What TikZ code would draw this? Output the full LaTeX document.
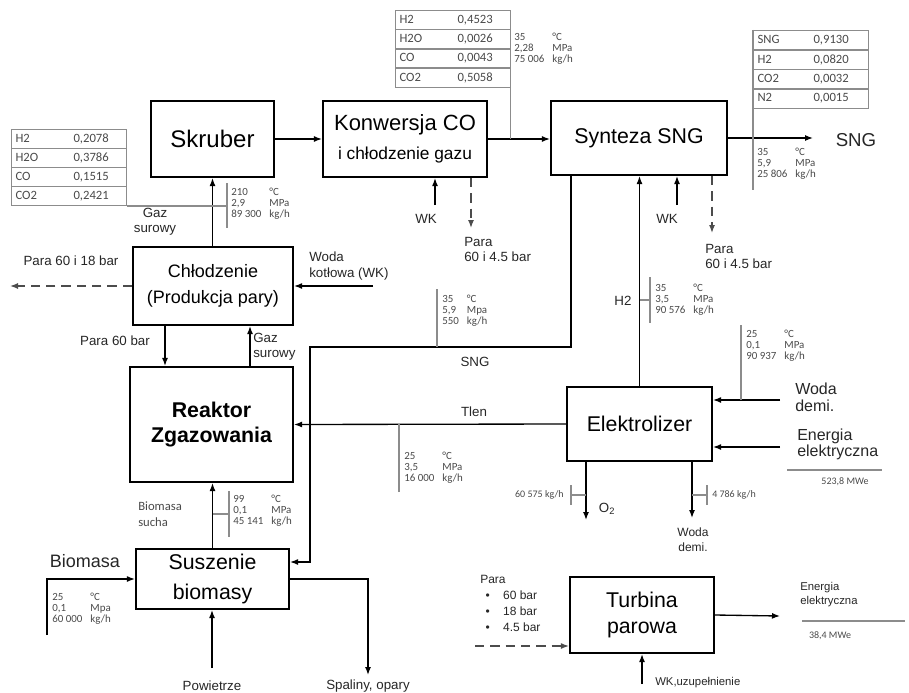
\documentclass[tikz,border=0pt]{standalone}
\usepackage{fontspec}
\setmainfont{Liberation Sans}
\newfontfamily\carl{Carlito}
\usetikzlibrary{arrows.meta}
\definecolor{lgray}{HTML}{8C8C8C}
\definecolor{tgray}{HTML}{4A4A4A}
% dane strumienia: temperatura, cisnienie, przeplyw
\newcommand{\pdata}[4][MPa]{{\carl\fontsize{8.2}{8.4}\selectfont\color{tgray}%
  \begin{tabular}{@{}l@{\hspace{6pt}}l@{}}#2&°C\\#3&#1\\#4&kg/h\end{tabular}}}
\begin{document}
\begin{tikzpicture}[x=0.75pt, y=-0.75pt,
    proc/.style 2 args={draw, line width=1.6pt, minimum width=#1*0.75pt, minimum height=#2*0.75pt,
      inner sep=0pt, align=center, font=\fontsize{16}{20}\selectfont},
    flw/.style={line width=1pt, -{Latex[length=6pt, width=4.5pt]}},
    stm/.style={flw, draw=black!70, dash pattern=on 7pt off 4.5pt},
    dline/.style={draw=lgray, line width=1.1pt},
    crow/.style={draw=lgray, line width=0.8pt, anchor=north west, minimum height=14.25pt,
      text width=80pt, inner xsep=3pt, align=left, text=tgray, font=\carl\fontsize{9.5}{10}\selectfont},
    dat/.style={anchor=north west, inner sep=0pt},
    lbl/.style={inner sep=0pt, align=left, text=black!85, font=\fontsize{10}{11.5}\selectfont},
    sml/.style={inner sep=0pt, align=left, text=tgray, font=\carl\fontsize{7.5}{9}\selectfont}]
\useasboundingbox (0,0) rectangle (909,692);

% bloki procesowe
\node[proc={123}{76}, font=\fontsize{18}{21}\selectfont] (skr) at (212.5,139) {Skruber};
\node[proc={164}{76}, font=\fontsize{16.5}{22}\selectfont] (kon) at (405,139)
  {Konwersja CO\\{\fontsize{13}{22}\selectfont i chłodzenie gazu}};
\node[proc={176}{74}] (syn) at (639,138) {Synteza SNG};
\node[proc={160}{78}, font=\fontsize{13.5}{19.5}\selectfont] (chl) at (213,286) {Chłodzenie\\(Produkcja pary)};
\node[proc={163}{115}, font=\bfseries\fontsize{16}{19}\selectfont] (rea) at (211.5,424.5) {Reaktor\\Zgazowania};
\node[proc={153}{60}, font=\fontsize{16}{22.5}\selectfont] (sus) at (212.5,579) {Suszenie\\biomasy};
\node[proc={145}{74}] (ele) at (639.5,424) {Elektrolizer};
\node[proc={144}{76}] (tur) at (642,615) {Turbina\\parowa};

% sklady gazu
\foreach \n/\v [count=\i] in {H2/{0,2078},H2O/{0,3786},CO/{0,1515},CO2/{0,2421}}
  \node[crow] (ga\i) at (11,{129+19*(\i-1)}) {\makebox[43.5pt][l]{\n}\v};
\foreach \n/\v [count=\i] in {H2/{0,4523},H2O/{0,0026},CO/{0,0043},CO2/{0,5058}}
  \node[crow] (gb\i) at (395,{10+19.25*(\i-1)}) {\makebox[43.5pt][l]{\n}\v};
\foreach \n/\v [count=\i] in {SNG/{0,9130},H2/{0,0820},CO2/{0,0032},N2/{0,0015}}
  \node[crow] (gc\i) at (753,{30+19.5*(\i-1)}) {\makebox[42pt][l]{\n}\v};

% wolne konce i punkty pomocnicze
\coordinate (wkin) at (373,286);
\coordinate (p18) at (10,286);
\coordinate (p60) at (165,325);
\coordinate (gs) at (250,367);
\coordinate (bio) at (47,635);
\coordinate (air) at (212,668);
\coordinate (rc) at (571,347);
\coordinate (rc2) at (310,562);
\coordinate (sp) at (368,675);
\coordinate (wk1) at (435,205);
\coordinate (pk) at (471,228);
\coordinate (wk2) at (677,205);
\coordinate (ps) at (712,233);
\coordinate (so) at (813,138);
\coordinate (wd) at (780,400);
\coordinate (ee) at (780,447);
\coordinate (o2) at (586,520);
\coordinate (wo) at (692,518);
\coordinate (pt) at (475,646);
\coordinate (eo) at (780,616);
\coordinate (wu) at (642,684);

% strumienie
\draw[flw] (skr.east) -- (kon.west);
\draw[flw] (kon.east) -- (kon.east -| syn.west);
\draw[flw] (syn.east) -- (so);
\draw[flw] (skr.south |- chl.north) -- (skr.south);
\draw[flw] (wkin) -- (chl.east);
\draw[stm] (chl.west) -- (p18);
\draw[flw] (p60) -- (p60 |- rea.north);
\draw[flw] (gs) -- (gs |- chl.south);
\draw[flw] (sus.north) -- (sus.north |- rea.south);
\draw[flw] (bio) |- (sus.west);
\draw[flw] (air) -- (air |- sus.south);
\draw[flw] (rc |- syn.south) -- (rc) -| (rc2) -- (rc2 -| sus.east);
\draw[flw] (sus.east) -| (sp);
\draw[flw] (wk1) -- (wk1 |- kon.south);
\draw[stm] (pk |- kon.south) -- (pk);
\draw[flw] (wk2) -- (wk2 |- syn.south);
\draw[stm] (ps |- syn.south) -- (ps);
\draw[flw] (ele.north) -- (ele.north |- syn.south);
\draw[flw] (ele.west) -- (rea.east);
\draw[flw] (wd) -- (wd -| ele.east);
\draw[flw] (ee) -- (ee -| ele.east);
\draw[flw] (o2 |- ele.south) -- (o2);
\draw[flw] (wo |- ele.south) -- (wo);
\draw[stm] (pt) -- (pt -| tur.west);
\draw[flw] (tur.east) -- (eo);
\draw[flw] (wu) -- (tur.south);

% parametry strumieni
\draw[dline] (227,183) coordinate (b1) -- ++(0,45);
\draw[dline] (ga4.south east) -- (ga4.south east -| b1);
\node[dat] at (231,187) {\pdata{210}{2,9}{89 300}};
\draw[dline] (gb4.south east) -- (gb4.south east |- kon.east);
\node[dat] at (514,32) {\pdata{35}{2,28}{75 006}};
\draw[dline] (gc1.north west) -- (753,190) coordinate (b3);
\node[dat] at (757,147) {\pdata{35}{5,9}{25 806}};
\draw[dline] (437,289) coordinate (b4) -- (b4 |- rc);
\node[dat] at (442,294) {\pdata[Mpa]{35}{5,9}{550}};
\draw[dline] (650,277) coordinate (b5) -- ++(0,46);
\draw[dline] (b5) ++(0,23) -- (ele.north |- 0,300);
\node[dat] at (655,283) {\pdata{35}{3,5}{90 576}};
\draw[dline] (741,325) coordinate (b6) -- (b6 |- wd);
\node[dat] at (746,329) {\pdata{25}{0,1}{90 937}};
\draw[dline] (399,492) coordinate (b7) -- (b7 |- ele.west);
\node[dat] at (404,451) {\pdata{25}{3,5}{16 000}};
\draw[dline] (229,491) coordinate (b8) -- ++(0,46);
\draw[dline] (b8) ++(0,23) -- (sus.north |- 0,514);
\node[dat] at (233,494) {\pdata{99}{0,1}{45 141}};
\node[dat] at (52,592) {\pdata[Mpa]{25}{0,1}{60 000}};
\draw[dline] (571,485) coordinate (b10) -- ++(0,20);
\draw[dline] (b10) ++(0,10) -- (o2 |- 0,495);
\draw[dline] (707,485) coordinate (b11) -- ++(0,20);
\draw[dline] (b11) ++(0,10) -- (wo |- 0,495);
\node[sml, anchor=east] at (564,495) {60 575 kg/h};
\node[sml, anchor=west] at (712,495) {4 786 kg/h};

% opisy
\node[lbl, font=\fontsize{14}{16}\selectfont] at (856,140) {SNG};
\node[lbl, align=center] at (155,222) {Gaz\\surowy};
\node[lbl] at (71,261) {Para 60 i 18 bar};
\node[lbl, anchor=west] at (309,266) {Woda\\kotłowa (WK)};
\node[lbl] at (115,341) {Para 60 bar};
\node[lbl, anchor=west] at (253,347) {Gaz\\surowy};
\node[lbl] at (426,219) {WK};
\node[lbl] at (667,219) {WK};
\node[lbl, anchor=north west] at (464,237) {Para\\60 i 4.5 bar};
\node[lbl, anchor=north west] at (705,244) {Para\\60 i 4.5 bar};
\node[lbl] at (623,301) {H2};
\node[lbl] at (475,362) {SNG};
\node[lbl] at (474,412) {Tlen};
\node[lbl, anchor=west, font=\fontsize{12}{12.75}\selectfont] at (795,397) {Woda\\demi.};
\node[lbl, anchor=west, font=\fontsize{12}{12}\selectfont] at (797,444) {Energia\\elektryczna};
\draw[dline] (787,470) coordinate (u1) -- (882,470);
\node[sml] at (845,482) {523,8 MWe};
\node[lbl] at (607,509) {O\textsubscript{2}};
\node[lbl, align=center, font=\fontsize{9}{11}\selectfont] at (693,540) {Woda\\demi.};
\node[lbl, font=\fontsize{13.5}{16}\selectfont] at (85,561) {Biomasa};
\node[lbl, anchor=west, text=tgray, font=\carl\fontsize{9.5}{12}\selectfont] at (138,514) {Biomasa\\sucha};
\node[lbl] at (212,686) {Powietrze};
\node[lbl] at (368,686) {Spaliny, opary};
\node[lbl, anchor=north west, font=\fontsize{9}{12}\selectfont] at (480,575)
  {Para\\\hspace*{4pt}\textbullet\hspace{10pt}60 bar\\\hspace*{4pt}\textbullet\hspace{10pt}18 bar\\\hspace*{4pt}\textbullet\hspace{10pt}4.5 bar};
\node[lbl, anchor=west, font=\fontsize{8.5}{10.5}\selectfont] at (800,595) {Energia\\elektryczna};
\draw[dline] (802,621) coordinate (u2) -- (905,621);
\node[sml] at (830,636) {38,4 MWe};
\node[lbl, anchor=west, font=\fontsize{8.5}{10}\selectfont] at (655,683) {WK,uzupełnienie};
\end{tikzpicture}
\end{document}
